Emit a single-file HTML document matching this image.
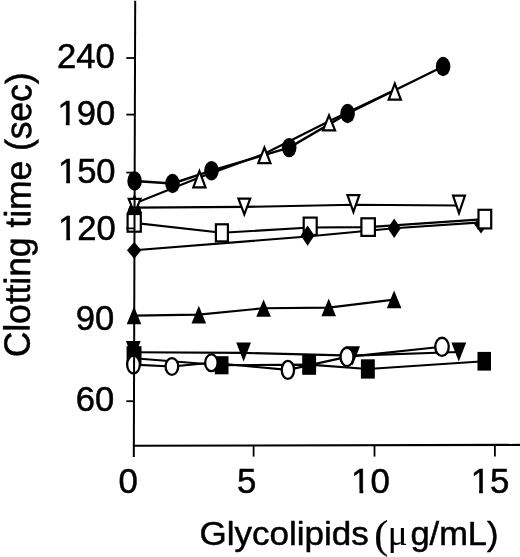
<!DOCTYPE html>
<html><head><meta charset="utf-8"><title>Clotting time vs Glycolipids</title>
<style>
html,body{margin:0;padding:0;background:#fff;}
svg{display:block;}
text{font-family:"Liberation Sans",Arial,Helvetica,sans-serif;fill:#000;stroke:#000;stroke-width:0.5px;}
</style></head><body>
<svg width="520" height="557" viewBox="0 0 520 557">
<rect width="520" height="557" fill="#fff"/>
<path d="M134.6 181.0 L172.5 183.5 L211.5 170.7 L289.2 147.6 L347.6 113.5 L443.1 66.5" fill="none" stroke="#000" stroke-width="2.4" stroke-linejoin="round"/>
<path d="M134.5 203.4 L199.4 177.5 L264.4 153.8 L329.0 121.2 L394.8 90.0" fill="none" stroke="#000" stroke-width="2.1" stroke-linejoin="round"/>
<ellipse cx="134.6" cy="181.0" rx="7.3" ry="9.7" fill="#000"/>
<ellipse cx="172.5" cy="183.5" rx="7.3" ry="9.7" fill="#000"/>
<ellipse cx="211.5" cy="170.7" rx="7.3" ry="9.7" fill="#000"/>
<ellipse cx="289.2" cy="147.6" rx="7.3" ry="9.7" fill="#000"/>
<ellipse cx="347.6" cy="113.5" rx="7.3" ry="9.7" fill="#000"/>
<ellipse cx="443.1" cy="66.5" rx="7.3" ry="9.7" fill="#000"/>
<polygon points="134.50,196.46 128.40,212.30 140.60,212.30" fill="#fff" stroke="#000" stroke-width="2.2" stroke-linejoin="miter"/>
<polygon points="199.40,171.11 193.29,187.30 205.51,187.30" fill="#fff" stroke="#000" stroke-width="2.2" stroke-linejoin="miter"/>
<polygon points="264.40,147.62 258.31,163.20 270.49,163.20" fill="#fff" stroke="#000" stroke-width="2.2" stroke-linejoin="miter"/>
<polygon points="329.00,115.33 322.93,130.30 335.07,130.30" fill="#fff" stroke="#000" stroke-width="2.2" stroke-linejoin="miter"/>
<polygon points="394.80,83.69 388.70,99.70 400.90,99.70" fill="#fff" stroke="#000" stroke-width="2.2" stroke-linejoin="miter"/>
<path d="M134.6 207.6 L244.3 206.9 L353.4 204.8 L459.0 205.5" fill="none" stroke="#000" stroke-width="2.1" stroke-linejoin="round"/>
<polygon points="134.60,213.54 128.73,198.90 140.47,198.90" fill="#fff" stroke="#000" stroke-width="2.2" stroke-linejoin="miter"/>
<polygon points="244.30,214.47 238.39,198.70 250.21,198.70" fill="#fff" stroke="#000" stroke-width="2.2" stroke-linejoin="miter"/>
<polygon points="353.40,211.92 347.46,195.20 359.34,195.20" fill="#fff" stroke="#000" stroke-width="2.2" stroke-linejoin="miter"/>
<polygon points="459.00,213.02 453.04,195.70 464.96,195.70" fill="#fff" stroke="#000" stroke-width="2.2" stroke-linejoin="miter"/>
<polygon points="129.3,206.5 139.9,206.5 141.8,213.7 127,213.7" fill="#000"/>
<path d="M134.2 250.3 L307.4 236.5 L394.3 228.2 L481.0 222.4" fill="none" stroke="#000" stroke-width="2.1" stroke-linejoin="round"/>
<polygon points="481.0,214.9 487.8,224.2 481.0,233.5 474.2,224.2" fill="#000"/>
<path d="M134.2 222.9 L221.9 232.8 L310.2 227.5 L368.1 227.1 L484.9 219.1" fill="none" stroke="#000" stroke-width="2.1" stroke-linejoin="round"/>
<rect x="127.60" y="214.00" width="13.20" height="17.70" fill="#fff" stroke="#000" stroke-width="2.2"/>
<rect x="215.90" y="224.30" width="12.00" height="17.10" fill="#fff" stroke="#000" stroke-width="2.2"/>
<rect x="303.70" y="217.60" width="13.00" height="17.40" fill="#fff" stroke="#000" stroke-width="2.2"/>
<rect x="361.40" y="218.30" width="13.50" height="17.60" fill="#fff" stroke="#000" stroke-width="2.2"/>
<rect x="478.50" y="209.80" width="12.70" height="18.60" fill="#fff" stroke="#000" stroke-width="2.2"/>
<polygon points="134.2,241.9 141.4,250.3 134.2,258.7 127.0,250.3" fill="#000"/>
<polygon points="307.6,225.4 314.5,235.6 307.6,245.8 300.7,235.6" fill="#000"/>
<polygon points="394.2,218.5 400.8,228.2 394.2,237.9 387.6,228.2" fill="#000"/>
<path d="M134.0 315.6 L198.8 314.6 L263.6 308.2 L328.7 307.6 L394.1 299.6" fill="none" stroke="#000" stroke-width="2.1" stroke-linejoin="round"/>
<polygon points="134.0,306.6 126.7,324.3 141.3,324.3" fill="#000"/>
<polygon points="198.8,305.8 191.5,323.5 206.1,323.5" fill="#000"/>
<polygon points="263.6,299.4 256.3,316.7 270.9,316.7" fill="#000"/>
<polygon points="328.7,298.5 321.4,316.3 336.0,316.3" fill="#000"/>
<polygon points="394.1,290.4 386.8,308.2 401.4,308.2" fill="#000"/>
<path d="M134.5 352.2 L244.0 352.9 L352.6 355.6 L458.6 352.0" fill="none" stroke="#000" stroke-width="2.1" stroke-linejoin="round"/>
<polygon points="133.3,360.0 125.9,341.1 140.7,341.1" fill="#000"/>
<polygon points="243.6,361.5 236.2,342.6 251.0,342.6" fill="#000"/>
<polygon points="352.6,365.4 345.2,346.2 360.0,346.2" fill="#000"/>
<polygon points="458.8,361.5 451.4,342.4 466.2,342.4" fill="#000"/>
<path d="M134.0 358.3 L221.7 365.2 L309.1 364.6 L367.9 369.0 L484.2 361.2" fill="none" stroke="#000" stroke-width="2.1" stroke-linejoin="round"/>
<rect x="126.6" y="346.2" width="14.9" height="18.8" fill="#000"/>
<rect x="214.8" y="356.2" width="13.7" height="18.1" fill="#000"/>
<rect x="302.2" y="354.3" width="13.9" height="20.5" fill="#000"/>
<rect x="360.9" y="359.3" width="13.9" height="19.3" fill="#000"/>
<rect x="477.5" y="351.9" width="13.5" height="18.7" fill="#000"/>
<path d="M133.5 364.6 L171.9 366.5 L211.4 362.8 L287.9 369.9 L347.0 356.9 L442.0 346.8" fill="none" stroke="#000" stroke-width="2.1" stroke-linejoin="round"/>
<ellipse cx="133.5" cy="364.6" rx="6.35" ry="8.95" fill="#fff" stroke="#000" stroke-width="2.3"/>
<ellipse cx="171.9" cy="366.5" rx="6.35" ry="8.35" fill="#fff" stroke="#000" stroke-width="2.3"/>
<ellipse cx="211.4" cy="362.8" rx="6.25" ry="8.35" fill="#fff" stroke="#000" stroke-width="2.3"/>
<ellipse cx="287.9" cy="369.9" rx="6.15" ry="9.05" fill="#fff" stroke="#000" stroke-width="2.3"/>
<ellipse cx="347.0" cy="356.9" rx="6.45" ry="9.15" fill="#fff" stroke="#000" stroke-width="2.3"/>
<ellipse cx="442.0" cy="346.8" rx="6.75" ry="9.05" fill="#fff" stroke="#000" stroke-width="2.3"/>
<path d="M135.2 0.8 L133.8 457" stroke="#000" stroke-width="2" fill="none"/>
<path d="M133.8 445.8 L520 444.9" stroke="#000" stroke-width="2.1" fill="none"/>
<path d="M126.3 58 L135 58" stroke="#000" stroke-width="1.8" fill="none"/>
<path d="M126.3 114.6 L135 114.6" stroke="#000" stroke-width="1.8" fill="none"/>
<path d="M126.3 172.6 L135 172.6" stroke="#000" stroke-width="1.8" fill="none"/>
<path d="M126.3 228.4 L135 228.4" stroke="#000" stroke-width="1.8" fill="none"/>
<path d="M126.3 401.2 L135 401.2" stroke="#000" stroke-width="1.8" fill="none"/>
<path d="M253.6 445 L253.6 456.6" stroke="#000" stroke-width="1.8" fill="none"/>
<path d="M374.5 445 L374.5 456.6" stroke="#000" stroke-width="1.8" fill="none"/>
<path d="M494.9 445 L494.9 456.6" stroke="#000" stroke-width="1.8" fill="none"/>
<text transform="translate(114.7,67.6) scale(1.0,1)" font-size="34.6" text-anchor="end" >240</text>
<text transform="translate(115.2,125.2) scale(1.0,1)" font-size="34.6" text-anchor="end" >190</text>
<text transform="translate(115.6,183.3) scale(1.0,1)" font-size="34.6" text-anchor="end" >150</text>
<text transform="translate(115.7,240) scale(1.0,1)" font-size="34.6" text-anchor="end" >120</text>
<text transform="translate(114.2,329.6) scale(1.0,1)" font-size="34.6" text-anchor="end" >90</text>
<text transform="translate(114.2,411) scale(1.0,1)" font-size="34.6" text-anchor="end" >60</text>
<text transform="translate(137.8,492.7) scale(1.0,1)" font-size="34.8" text-anchor="end" >0</text>
<text transform="translate(256.4,492.7) scale(1.0,1)" font-size="34.8" text-anchor="end" >5</text>
<text transform="translate(389.8,492.7) scale(1.0,1)" font-size="34.8" text-anchor="end" >10</text>
<text transform="translate(509.4,492.7) scale(1.0,1)" font-size="34.8" text-anchor="end" >15</text>
<text transform="translate(29.4,357.3) rotate(-89.6) scale(1,1.03)" font-size="35.35">Clotting time (sec)</text>
<text transform="translate(0,544.6) scale(1.03,1)" font-size="34"><tspan x="193.79">Glycolipids </tspan><tspan x="363.30" dy="3.4" font-size="40.5" style="font-family:'Liberation Serif','DejaVu Serif',serif;stroke-width:0.3px">(</tspan><tspan x="376.50" dy="-3.3" font-size="36" style="font-family:'Liberation Serif','DejaVu Serif',serif;stroke-width:0.1px">μ</tspan><tspan x="398.45" dy="-0.1" textLength="85.53" lengthAdjust="spacingAndGlyphs">g/mL)</tspan></text>
<rect x="58.85" y="121.92" width="6.97" height="4.98" fill="#fff"/><rect x="69.57" y="121.92" width="6.58" height="4.98" fill="#fff"/>
<rect x="59.25" y="180.02" width="6.97" height="4.98" fill="#fff"/><rect x="69.97" y="180.02" width="6.58" height="4.98" fill="#fff"/>
<rect x="59.35" y="236.72" width="6.97" height="4.98" fill="#fff"/><rect x="70.07" y="236.72" width="6.58" height="4.98" fill="#fff"/>
<rect x="352.48" y="489.40" width="7.01" height="5.00" fill="#fff"/><rect x="363.26" y="489.40" width="6.62" height="5.00" fill="#fff"/>
<rect x="472.08" y="489.40" width="7.01" height="5.00" fill="#fff"/><rect x="482.86" y="489.40" width="6.62" height="5.00" fill="#fff"/>
</svg>
</body></html>
